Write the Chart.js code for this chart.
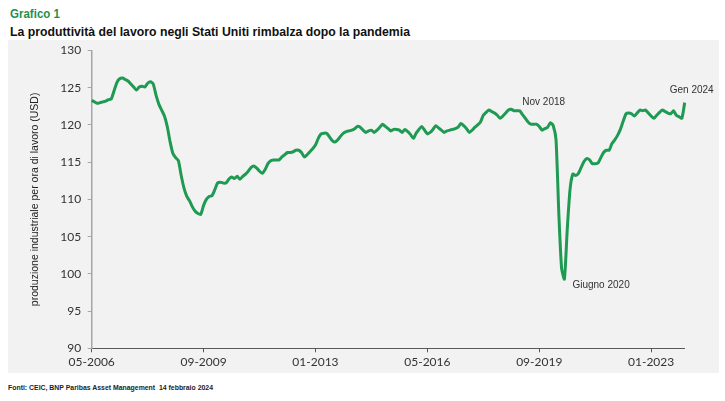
<!DOCTYPE html>
<html>
<head>
<meta charset="utf-8">
<script src="https://cdn.jsdelivr.net/npm/chart.js@4/dist/chart.umd.min.js"></script>
<style>
  html, body { margin:0; padding:0; background:#ffffff; }
  body { width:725px; height:401px; position:relative; overflow:hidden; }
  #panel { position:absolute; left:8px; top:40px; width:711px; height:333px; background:#f2f2f2; }
  #c { position:absolute; left:0; top:0; }
  .t { position:absolute; white-space:nowrap; font-family:"Liberation Sans Narrow","Liberation Sans",Arial,sans-serif; font-weight:bold; transform-origin:left center; }
  #kicker { left:10px; top:6px; font-size:13px; color:#1f8f4e; }
  #title { left:10px; top:24px; font-size:13.5px; color:#111; }
  #foot { left:8px; top:383px; font-size:7.5px; color:#222; }
</style>
</head>
<body>
<div id="panel"></div>
<div class="t" id="kicker" data-w="50">Grafico 1</div>
<div class="t" id="title" data-w="400">La produttività del lavoro negli Stati Uniti rimbalza dopo la pandemia</div>
<div class="t" id="foot" data-w="205">Fonti: CEIC, BNP Paribas Asset Management&nbsp;&nbsp;14 febbraio 2024</div>
<canvas id="c" width="725" height="401"></canvas>
<script>
// ---- data ----
const startYear = 2006, startMonth = 5, nMonths = 213;
const tickLabels = ['05-2006','09-2009','01-2013','05-2016','09-2019','01-2023'];
const productivity = [
123.3,123.1,122.9,123.0,123.1,123.2,123.4,123.5,124.6,125.7,
126.2,126.3,126.1,125.9,125.5,125.1,124.7,125.1,125.2,125.1,
125.6,125.8,125.5,124.0,122.8,122.0,121.2,119.8,117.8,116.2,
115.6,115.2,113.2,111.5,110.4,109.8,109.0,108.4,108.1,108.0,
109.2,110.0,110.4,110.5,111.3,112.2,112.3,112.2,112.2,112.7,
113.0,112.8,113.1,112.7,113.1,113.4,113.8,114.3,114.5,114.2,
113.8,113.5,114.0,114.8,115.2,115.3,115.3,115.3,115.7,116.0,
116.3,116.3,116.4,116.6,116.6,116.3,115.7,116.0,116.4,116.8,
117.3,118.2,118.8,118.9,118.9,118.4,117.9,117.7,118.0,118.5,
118.9,119.1,119.2,119.3,119.5,119.8,119.7,119.3,119.0,119.2,
119.3,119.0,119.3,119.7,120.1,119.8,119.5,119.2,119.4,119.4,
119.3,119.0,119.4,119.1,118.7,118.2,118.9,119.4,119.8,119.3,
118.8,119.0,119.4,119.9,119.6,119.3,119.0,119.2,119.3,119.4,
119.5,119.7,120.2,119.9,119.5,119.0,119.3,119.7,120.0,120.4,
121.3,121.7,122.0,121.8,121.6,121.3,120.9,121.2,121.6,122.0,
122.1,121.9,121.9,121.9,121.4,120.9,120.4,120.1,120.1,120.1,
119.8,119.3,119.5,119.7,120.3,119.9,118.0,108.1,100.7,99.3,
105.9,111.3,113.4,113.2,113.5,114.3,115.1,115.5,115.3,114.8,
114.8,114.9,115.6,116.3,116.6,116.6,117.5,118.0,118.6,119.4,
120.5,121.5,121.6,121.5,121.2,121.6,122.0,121.9,122.0,121.6,
121.2,120.9,121.3,121.7,122.0,121.8,121.6,121.5,121.9,121.3,
121.1,120.9,123.0
];
const annotations = [
  { label:'Nov 2018',    month:'11-2018', dx:11, dy:-7,  align:'left' },
  { label:'Giugno 2020', month:'06-2020', dx:8,  dy:6.5, align:'left' },
  { label:'Gen 2024',    month:'01-2024', dx:7,  dy:-12.5, align:'center' }
];

const months = [];
for (let i = 0; i < nMonths; i++) {
  const m = (startMonth - 1 + i) % 12 + 1;
  const y = startYear + Math.floor((startMonth - 1 + i) / 12);
  months.push((m < 10 ? '0' + m : '' + m) + '-' + y);
}

// fit header/footer text widths
document.querySelectorAll('.t').forEach(el => {
  const target = parseFloat(el.dataset.w);
  const w = el.getBoundingClientRect().width;
  if (w > 0) el.style.transform = 'scaleX(' + (target / w) + ')';
});

const annotPlugin = {
  id: 'annot',
  afterDatasetsDraw(chart) {
    const {ctx, scales:{x, y}} = chart;
    ctx.save();
    ctx.font = '10px "Liberation Sans", Arial, sans-serif';
    ctx.fillStyle = '#333333';
    ctx.textBaseline = 'middle';
    annotations.forEach(a => {
      const i = months.indexOf(a.month);
      const px = x.getPixelForValue(i);
      const py = y.getPixelForValue(productivity[i]);
      ctx.textAlign = a.align;
      ctx.fillText(a.label, px + a.dx, py + a.dy);
    });
    ctx.restore();
  }
};

new Chart(document.getElementById('c'), {
  type: 'line',
  data: {
    labels: months,
    datasets: [{
      data: productivity,
      borderColor: '#1f9a52',
      borderWidth: 3,
      pointRadius: 0,
      tension: 0.2,
      fill: false
    }]
  },
  options: {
    responsive: false,
    animation: false,
    layout: { padding: { left: 0, top: 50.5, right: 40.3, bottom: 0 } },
    plugins: { legend: { display: false }, tooltip: { enabled: false } },
    scales: {
      x: {
        type: 'category',
        offset: false,
        afterBuildTicks: (s) => { s.ticks = s.ticks.filter(t => tickLabels.includes(months[t.value])); },
        afterFit: (s) => { s.height = 52.7; },
        ticks: { autoSkip: false, maxRotation: 0, minRotation: 0, padding: 3,
                 color: '#333333', font: { family: 'Lato', size: 12 } },
        grid: { drawOnChartArea: false, drawTicks: true, tickLength: 4, color: '#595959', lineWidth: 1 },
        border: { color: '#595959', width: 1 }
      },
      y: {
        min: 90, max: 130,
        afterFit: (s) => { s.width = 91.7; },
        ticks: { stepSize: 5, padding: 6.5, color: '#333333', font: { family: 'Lato', size: 12 } },
        grid: { drawOnChartArea: false, drawTicks: true, tickLength: 4, color: '#a6a6a6', lineWidth: 1 },
        border: { color: '#a6a6a6', width: 1.5 },
        title: { display: true, text: 'produzione industriale per ora di lavoro (USD)',
                 color: '#222222', font: { family: '"Liberation Sans"', size: 10.5 },
                 padding: { top: 29, bottom: 0 } }
      }
    }
  },
  plugins: [annotPlugin]
});
</script>
</body>
</html>
